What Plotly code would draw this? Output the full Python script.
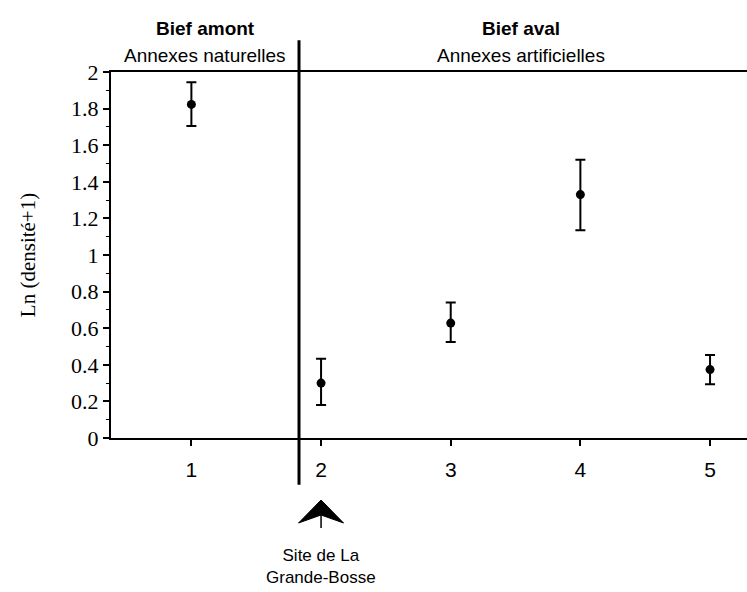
import plotly.graph_objects as go

sites = [1, 2, 3, 4, 5]
means = [1.823, 0.300, 0.628, 1.330, 0.374]
err_plus = [0.121, 0.133, 0.113, 0.190, 0.080]
err_minus = [0.118, 0.120, 0.104, 0.195, 0.080]
y_ticks = [0, 0.2, 0.4, 0.6, 0.8, 1, 1.2, 1.4, 1.6, 1.8, 2]
y_title = "Ln (densité+1)"
header_left = ("Bief amont", "Annexes naturelles")
header_right = ("Bief aval", "Annexes artificielles")
site_note = "Site de La<br>Grande-Bosse"
separator_x = 1.83

fig = go.Figure()
fig.add_trace(go.Scatter(
    x=sites, y=means, mode="markers",
    marker=dict(color="black", size=9),
    error_y=dict(type="data", symmetric=False, array=err_plus, arrayminus=err_minus,
                 color="black", thickness=2, width=5),
    showlegend=False, hoverinfo="skip",
))

serif = "Liberation Serif, Times New Roman"
font_sans = "Liberation Sans, Arial"

fig.update_layout(
    width=747, height=592,
    margin=dict(l=111, r=0, t=72, b=154, autoexpand=False),
    paper_bgcolor="white", plot_bgcolor="white",
    xaxis=dict(range=[0.38, 5.285], tickvals=sites, ticks="outside", ticklen=6, tickwidth=1.5,
               tickcolor="black", showline=True, linecolor="black", linewidth=2, mirror=True,
               showgrid=False, zeroline=False, ticklabelstandoff=6,
               tickfont=dict(family=font_sans, size=21, color="black")),
    yaxis=dict(range=[0, 2], tickvals=y_ticks, ticks="outside", ticklen=6, tickwidth=1.5,
               tickcolor="black", showline=True, linecolor="black", linewidth=2,
               showgrid=False, zeroline=False, automargin=False,
               minor=dict(dtick=0.1, ticks="outside", ticklen=3, tickwidth=1.2, tickcolor="black"),
               tickfont=dict(family=serif, size=22, color="black"),
               title=dict(text=y_title, standoff=30,
                          font=dict(family=serif, size=21, color="black"))),
)

# separator line
fig.add_shape(type="line", xref="x", yref="paper", x0=separator_x, x1=separator_x,
              y0=1.087, y1=-0.128, line=dict(color="black", width=3))

# arrow head pointing at site 2
hw = 0.1735
fig.add_shape(type="path", xref="x", yref="paper",
              path=f"M {sites[1]} -0.1694 L {sites[1]+hw} -0.2322 L {sites[1]} -0.2104 L {sites[1]-hw} -0.2322 Z",
              fillcolor="black", line=dict(color="black", width=1))
fig.add_shape(type="line", xref="x", yref="paper", x0=sites[1], x1=sites[1],
              y0=-0.2104, y1=-0.2459, line=dict(color="black", width=1.5))

for xp, (bold, sub) in ((0.148, header_left), (0.645, header_right)):
    fig.add_annotation(text=f"<b>{bold}</b>", xref="paper", yref="paper", x=xp, y=1.118,
                       xanchor="center", yanchor="middle",
                       showarrow=False, font=dict(family=font_sans, size=19, color="black"))
    fig.add_annotation(text=sub, xref="paper", yref="paper", x=xp, y=1.045,
                       xanchor="center", yanchor="middle",
                       showarrow=False, font=dict(family=font_sans, size=19, color="black"))
fig.add_annotation(text=site_note, xref="x", yref="paper", x=sites[1], y=-0.352,
                   xanchor="center", yanchor="middle",
                   showarrow=False, font=dict(family=font_sans, size=17, color="black"))

fig.write_html("out.html", config={"displayModeBar": False},
               post_script="document.body.style.margin='0';document.body.style.overflow='hidden';")
